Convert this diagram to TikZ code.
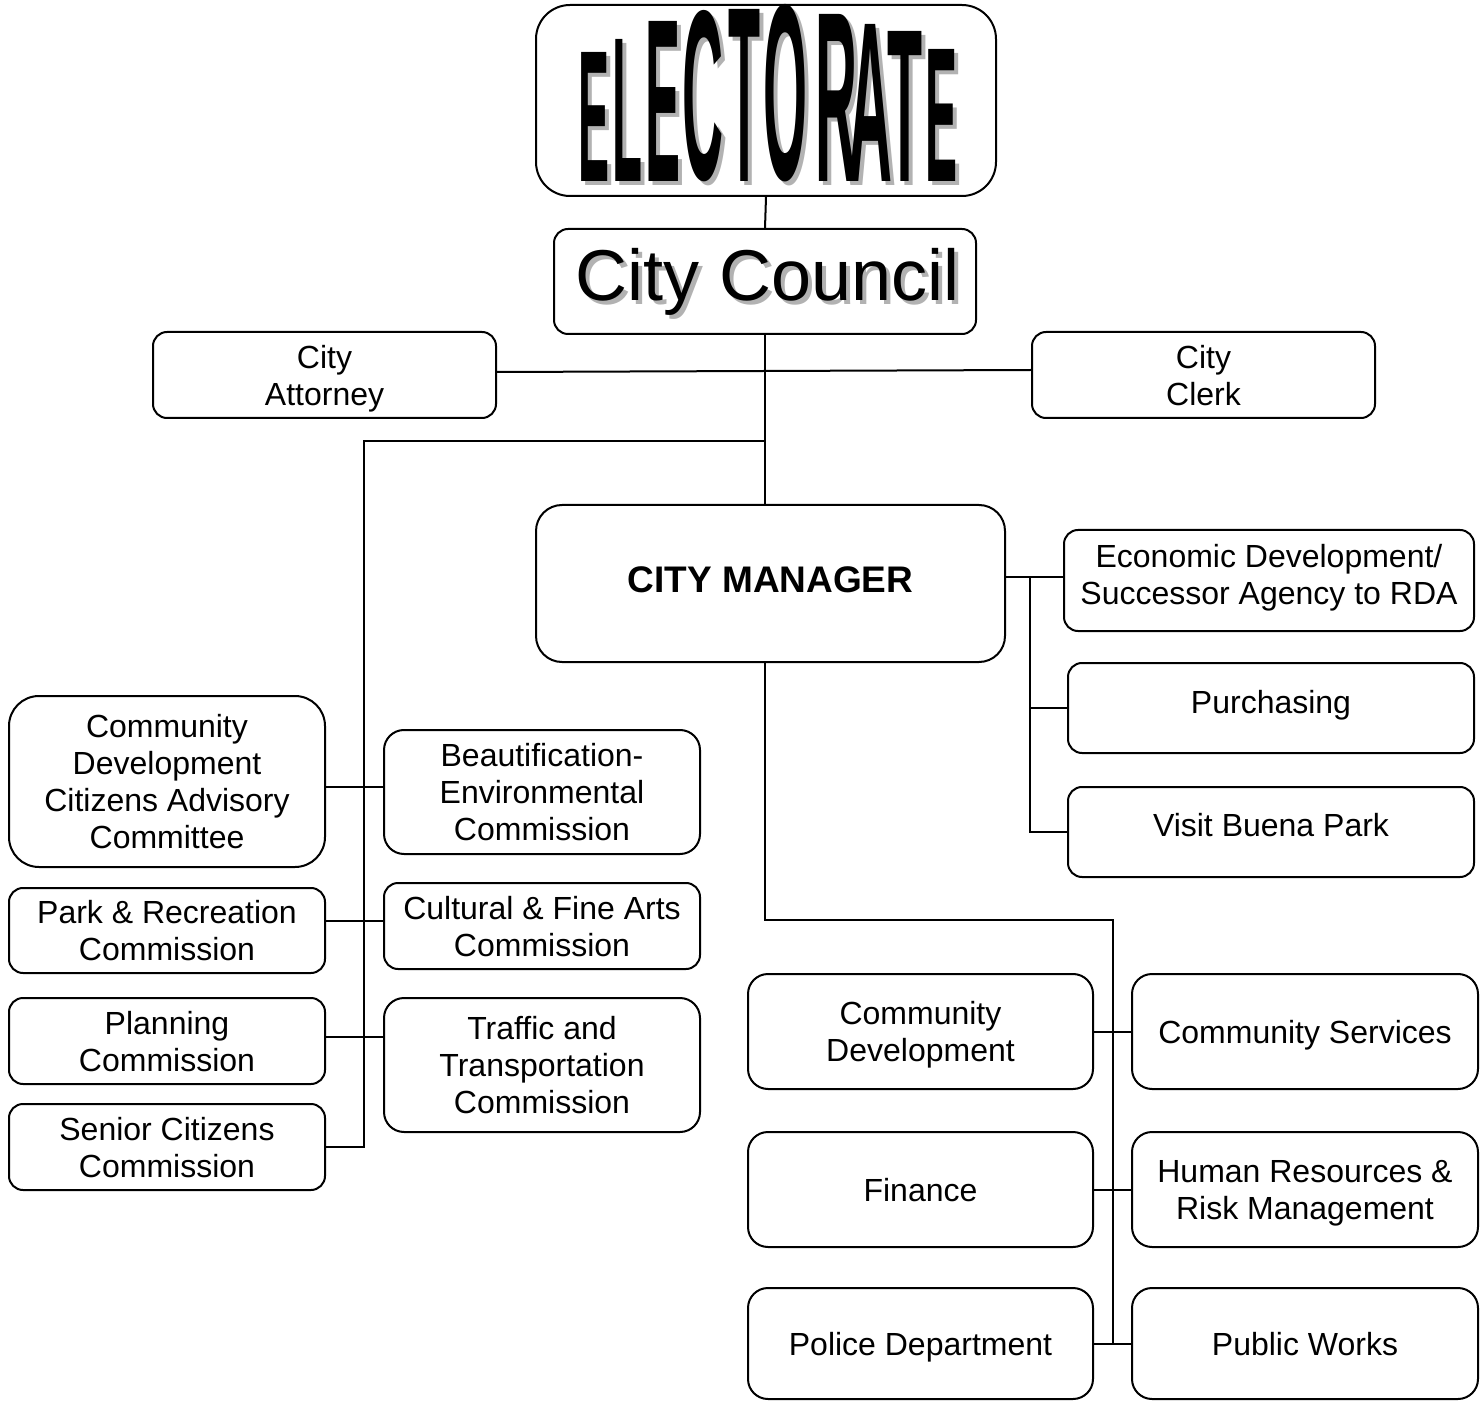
\documentclass[tikz,border=0pt]{standalone}
\usepackage{fontspec}
\setmainfont{Liberation Sans}
\tikzset{
  unit/.style={draw, line width=1pt, rounded corners=7pt, align=center, inner sep=0pt,
    text depth=0pt, font=\fontsize{16pt}{18.5pt}\selectfont},
  wire/.style={line width=1pt},
  shadowtext/.style={text=black!30, inner sep=0pt}
}
\begin{document}
\begin{tikzpicture}[x=0.5pt,y=-0.5pt]
\useasboundingbox (0,0) rectangle (1484,1401);

% top of the chart
\node[unit, minimum width=230pt, minimum height=95.5pt, rounded corners=17pt] (electorate) at (766,100.5) {};
\foreach \ch/\cx/\w/\h [count=\i] in {E/593.5/15.5/64.5, L/627/15/71, E/662.5/17.5/80, C/702.5/20.5/84.5,
    T/744/16/86, O/785/22/87.5, R/836/21/83.5, A/870/22/78.5, T/904.5/17.5/75, E/941/16/66}
{
  \node[shadowtext, anchor=south] (shd\i) at (\cx+4,186) {\resizebox{\w pt}{\h pt}{\bfseries\ch}};
  \node[inner sep=0pt, anchor=south] (ltr\i) at (\cx,182) {\resizebox{\w pt}{\h pt}{\bfseries\ch}};
}
\node[shadowtext, font=\fontsize{36pt}{40pt}\selectfont] (councilshd) at (772,285.5) {City Council};
\node[unit, minimum width=211pt, minimum height=52.5pt] (council) at (765,281.5) {};
\node[inner sep=0pt, font=\fontsize{36pt}{40pt}\selectfont] (councillbl) at (768,281.5) {City Council};
\node[unit, minimum width=171.5pt, minimum height=43pt] (attorney) at (324.5,375) {City\\Attorney};
\node[unit, minimum width=171.5pt, minimum height=43pt] (clerk) at (1203.5,375) {City\\Clerk};
\node[unit, minimum width=234.5pt, minimum height=78.5pt, rounded corners=13pt, text depth=3.5pt,
  font=\fontsize{18.5pt}{22pt}\selectfont\bfseries] (manager) at (770.5,583.5) {CITY MANAGER};

% manager's office
\node[unit, minimum width=205pt, minimum height=50.5pt, text depth=6pt] (econ) at (1269,580.5) {Economic Development/\\Successor Agency to RDA};
\node[unit, minimum width=203pt, minimum height=45pt, text depth=6pt] (purch) at (1271,708) {Purchasing};
\node[unit, minimum width=203pt, minimum height=45pt, text depth=7pt] (visit) at (1271,832) {Visit Buena Park};

% commissions
\node[unit, minimum width=158pt, minimum height=85.5pt, rounded corners=15pt] (cdcac) at (167,781.5) {Community\\Development\\Citizens Advisory\\Committee};
\node[unit, minimum width=158pt, minimum height=42.5pt] (parkrec) at (167,930.5) {Park \& Recreation\\Commission};
\node[unit, minimum width=158pt, minimum height=43pt] (planning) at (167,1041) {Planning\\Commission};
\node[unit, minimum width=158pt, minimum height=43pt] (senior) at (167,1147) {Senior Citizens\\Commission};
\node[unit, minimum width=158pt, minimum height=62pt, rounded corners=10pt] (beaut) at (542,792) {Beautification-\\Environmental\\Commission};
\node[unit, minimum width=158pt, minimum height=43pt] (cultural) at (542,926) {Cultural \& Fine Arts\\Commission};
\node[unit, minimum width=158pt, minimum height=67pt, rounded corners=10pt] (traffic) at (542,1065) {Traffic and\\Transportation\\Commission};

% departments
\node[unit, minimum width=172.5pt, minimum height=57.5pt, rounded corners=10pt] (comdev) at (920.5,1031.5) {Community\\Development};
\node[unit, minimum width=173pt, minimum height=57.5pt, rounded corners=10pt] (comserv) at (1305,1031.5) {Community Services};
\node[unit, minimum width=172.5pt, minimum height=57.5pt, rounded corners=10pt] (finance) at (920.5,1189.5) {Finance};
\node[unit, minimum width=173pt, minimum height=57.5pt, rounded corners=10pt] (hr) at (1305,1189.5) {Human Resources \&\\Risk Management};
\node[unit, minimum width=172.5pt, minimum height=55.5pt, rounded corners=10pt] (police) at (920.5,1343.5) {Police Department};
\node[unit, minimum width=173pt, minimum height=55.5pt, rounded corners=10pt] (pubworks) at (1305,1343.5) {Public Works};

% connectors
\coordinate (lbus) at (364,441);
\coordinate (rbus) at (1030,577);
\coordinate (dbus) at (1113,920);
\draw[wire] (electorate.south) -- (council.north);
\draw[wire] (council.south) -- (council.south |- manager.north);
\draw[wire] (attorney.east |- 0,372) -- (clerk.west |- 0,370);
\draw[wire] (council.south |- lbus) -- (lbus) |- (senior.east);
\draw[wire] (cdcac.east |- 0,787) -- (beaut.west |- 0,787);
\draw[wire] (parkrec.east |- 0,921) -- (cultural.west |- 0,921);
\draw[wire] (planning.east |- 0,1037) -- (traffic.west |- 0,1037);
\draw[wire] (rbus -| manager.east) -- (rbus -| econ.west);
\draw[wire] (rbus) |- (visit.west);
\draw[wire] (rbus |- purch.west) -- (purch.west);
\draw[wire] (manager.south -| council.south) |- (dbus) -- (dbus |- police.east);
\draw[wire] (comdev.east) -- (comserv.west);
\draw[wire] (finance.east) -- (hr.west);
\draw[wire] (police.east) -- (pubworks.west);
\end{tikzpicture}
\end{document}
